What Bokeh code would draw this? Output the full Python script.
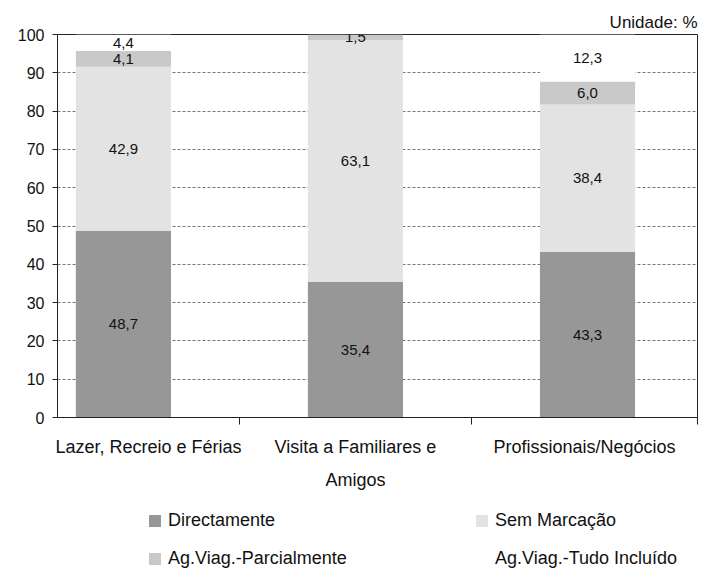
from bokeh.plotting import figure
from bokeh.layouts import column
from bokeh.models import (Range1d, FixedTicker, Legend, LegendItem,
                          ColumnDataSource, LinearAxis)
from bokeh.core.properties import value
from bokeh.embed import file_html
from bokeh.resources import INLINE

# ---- data ----
categories = ["Lazer, Recreio e Férias", "Visita a Familiares e\nAmigos", "Profissionais/Negócios"]
series = ["Directamente", "Sem Marcação", "Ag.Viag.-Parcialmente", "Ag.Viag.-Tudo Incluído"]
directamente = [48.7, 35.4, 43.3]
sem_marcacao = [42.9, 63.1, 38.4]
parcialmente = [4.1, 1.5, 6.0]
tudo_incluido = [4.4, 0.0, 12.3]
y_ticks = [0, 10, 20, 30, 40, 50, 60, 70, 80, 90, 100]

colors = ["#979797", "#e3e3e3", "#c9c9c9", "#ffffff"]
FONT = "Liberation Sans"
TXT = "#111111"

values = [directamente, sem_marcacao, parcialmente, tudo_incluido]
xs = list(range(len(categories)))
x_start, x_end = -0.284, 2.474
bounds = [x_start] + [i + 0.5 for i in xs[:-1]] + [x_end]
label_pos = [round((a + b) / 2, 3) for a, b in zip(bounds[:-1], bounds[1:])]

p = figure(width=705, height=492, output_backend="svg", toolbar_location=None,
           x_range=Range1d(x_start, x_end), y_range=Range1d(0, 100),
           min_border_left=57, min_border_right=8, min_border_top=34,
           min_border_bottom=75, x_axis_location=None)

p.title.text = "Unidade: %"
p.title.align = "right"
p.title.text_font = FONT
p.title.text_font_size = "17px"
p.title.text_font_style = "normal"
p.title.text_color = TXT
p.title.standoff = 6

src = ColumnDataSource(dict(x=xs, **{s: v for s, v in zip(series, values)}))
renderers = p.vbar_stack(series, x="x", width=0.41, source=src,
                         fill_color=colors, line_color=None)

# data labels
lx, ly, lt = [], [], []
for i in xs:
    base = 0.0
    for v in values:
        vv = v[i]
        if vv > 0:
            lx.append(i)
            ly.append(base + vv / 2.0)
            lt.append(f"{vv:.1f}".replace(".", ","))
        base += vv
p.text(x=lx, y=ly, text=lt, text_font=value(FONT), text_font_size="15px",
       text_align="center", text_baseline="middle", text_color=TXT)

# y axis
p.yaxis.ticker = FixedTicker(ticks=y_ticks)
p.yaxis.major_label_text_font = FONT
p.yaxis.major_label_text_font_size = "16px"
p.yaxis.major_label_text_color = TXT
p.yaxis.major_tick_out = 5
p.yaxis.major_tick_in = 0
p.yaxis.minor_tick_line_color = None
p.yaxis.axis_line_color = "#222222"
p.yaxis.major_tick_line_color = "#222222"
p.yaxis.major_label_standoff = 8

# x axis: first line of category names (centred in each category slot)
lines = [c.split("\n") for c in categories]
ax1 = LinearAxis(ticker=FixedTicker(ticks=label_pos, minor_ticks=bounds[1:]),
                 major_label_overrides={t: l[0] for t, l in zip(label_pos, lines)},
                 major_tick_line_color=None, major_tick_out=0, major_tick_in=0,
                 minor_tick_out=7, minor_tick_in=0,
                 minor_tick_line_color="#222222", axis_line_color="#222222",
                 major_label_text_font=FONT, major_label_text_font_size="18px",
                 major_label_text_color=TXT, major_label_standoff=12)
p.add_layout(ax1, "below")
# x axis: second line of category names
second = [k for k, l in enumerate(lines) if len(l) > 1]
ax2 = LinearAxis(ticker=FixedTicker(ticks=[label_pos[k] for k in second]),
                 major_label_overrides={label_pos[k]: lines[k][1] for k in second},
                 major_tick_line_color=None, major_tick_out=0, major_tick_in=0,
                 minor_tick_line_color=None, axis_line_color=None,
                 major_label_text_font=FONT, major_label_text_font_size="18px",
                 major_label_text_color=TXT, major_label_standoff=10)
p.add_layout(ax2, "below")

p.xgrid.grid_line_color = None
p.ygrid.grid_line_color = "#777777"
p.ygrid.grid_line_dash = "3 2"
p.ygrid.grid_line_width = 1
p.outline_line_color = "#222222"
p.outline_line_width = 1

# legend in its own strip below the chart (swatch renderers hidden)
q = figure(width=705, height=77, output_backend="svg", toolbar_location=None,
           x_range=Range1d(x_start, x_end), y_range=Range1d(0, 100),
           min_border=0, x_axis_location=None, y_axis_location=None)
q.outline_line_color = None
q.xgrid.grid_line_color = None
q.ygrid.grid_line_color = None
swatches = [q.vbar(x=xs, top=v, width=0.41, fill_color=c, line_color=None,
                   visible=False)
            for v, c in zip(values, colors)]
items = [LegendItem(label=s, renderers=[r]) for s, r in zip(series, swatches)]
legend = Legend(items=items, location=(90, 0), orientation="horizontal",
                ncols=2, label_text_font=FONT, label_text_font_size="18px",
                label_text_color=TXT, glyph_width=15, glyph_height=15,
                label_standoff=6, label_width=289, label_height=21,
                spacing=17, padding=0, margin=0, border_line_color=None,
                background_fill_alpha=0, inactive_fill_alpha=0)
q.add_layout(legend, "center")

open("out.html", "w").write(file_html(column(p, q, spacing=0), INLINE))
